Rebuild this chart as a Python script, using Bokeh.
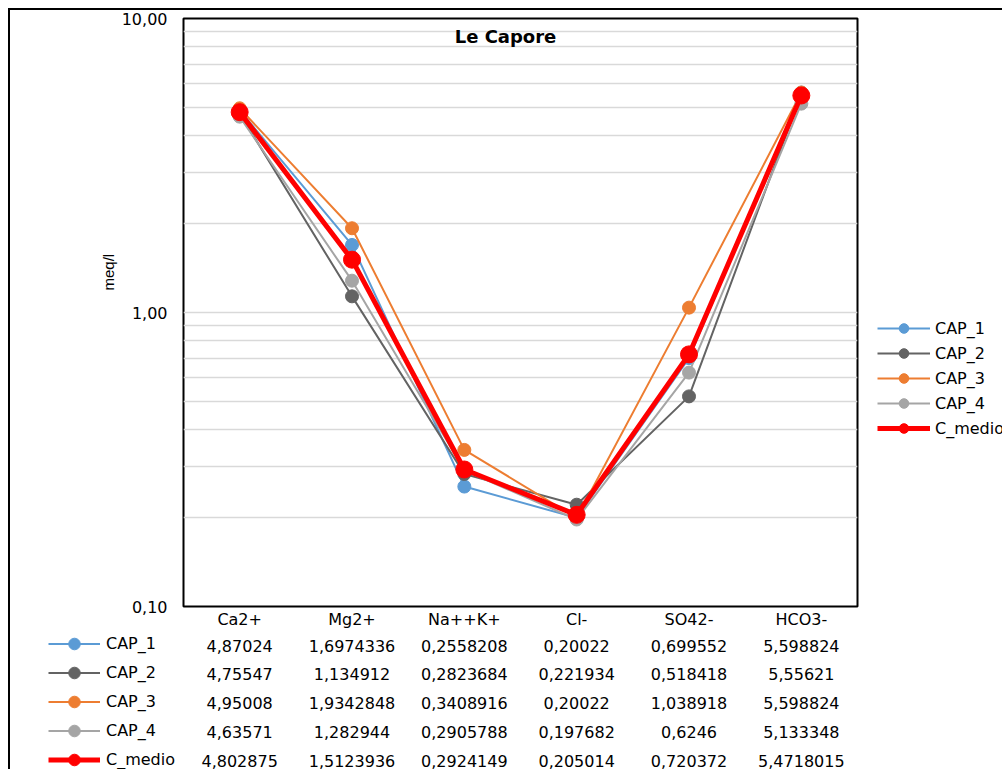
import math
from bokeh.plotting import figure
from bokeh.models import (FactorRange, Range1d, FixedTicker, CustomJSTickFormatter,
                          Legend, LegendItem, Label, Title, ColumnDataSource)
from bokeh.layouts import column, row
from bokeh.embed import file_html
from bokeh.resources import INLINE
from bokeh.core.properties import value

# ---------------- data ----------------
categories = ["Ca2+", "Mg2+", "Na++K+", "Cl-", "SO42-", "HCO3-"]
series_names = ["CAP_1", "CAP_2", "CAP_3", "CAP_4", "C_medio"]
cap_1 = [4.87024, 1.6974336, 0.2558208, 0.20022, 0.699552, 5.598824]
cap_2 = [4.75547, 1.134912, 0.2823684, 0.221934, 0.518418, 5.55621]
cap_3 = [4.95008, 1.9342848, 0.3408916, 0.20022, 1.038918, 5.598824]
cap_4 = [4.63571, 1.282944, 0.2905788, 0.197682, 0.6246, 5.133348]
c_medio = [4.802875, 1.5123936, 0.2924149, 0.205014, 0.720372, 5.4718015]
title_text = "Le Capore"
y_label = "meq/l"

series_values = [cap_1, cap_2, cap_3, cap_4, c_medio]
colors = ["#5b9bd5", "#636363", "#ed7d31", "#a5a5a5", "#ff0000"]
line_widths = [2, 2, 2, 2, 5]
marker_sizes = [13, 13, 13, 13, 17]

FONT = "DejaVu Sans"
FS = "16px"
nan = float("nan")


def bare(width, height, **kw):
    f = figure(width=width, height=height, min_border=0,
               x_axis_location=None, y_axis_location=None,
               output_backend="svg", toolbar_location=None, **kw)
    f.grid.visible = False
    f.outline_line_color = None
    return f


def legend_items(fig):
    its = []
    for name, col, lw, ms in zip(series_names, colors, line_widths, marker_sizes):
        empty = ColumnDataSource(dict(x=[nan], y=[nan]))
        l = fig.line(x="x", y="y", source=empty, line_color=col, line_width=lw)
        s = fig.scatter(x="x", y="y", source=empty, marker="circle", size=ms,
                        fill_color=col, line_color=col)
        its.append(LegendItem(label=name, renderers=[l, s]))
    return its


# ---------------- main chart ----------------
p = figure(x_range=FactorRange(*categories), y_range=Range1d(0.1, 10), y_axis_type="log",
           width=849, height=621,
           min_border_left=173, min_border_right=2, min_border_top=8, min_border_bottom=25,
           output_backend="svg", toolbar_location=None)
p.outline_line_color = "black"
p.outline_line_width = 2

minor = [m * 10.0 ** e for e in (-1, 0) for m in range(2, 10)]
p.yaxis.ticker = FixedTicker(ticks=[0.1, 1, 10], minor_ticks=minor)
p.yaxis.formatter = CustomJSTickFormatter(code="return tick.toFixed(2).replace('.', ',');")
for ax in (p.xaxis[0], p.yaxis[0]):
    ax.major_tick_line_color = None
    ax.minor_tick_line_color = None
    ax.major_tick_out = 0
    ax.major_tick_in = 0
    ax.minor_tick_out = 0
    ax.minor_tick_in = 0
    ax.axis_line_color = None
    ax.major_label_text_font = FONT
    ax.major_label_text_font_size = FS
    ax.major_label_text_color = "black"
p.yaxis.major_label_standoff = 16
p.xaxis.major_label_standoff = 3

p.xgrid.visible = False
p.ygrid.grid_line_color = "#d9d9d9"
p.ygrid.grid_line_width = 1.5
p.ygrid.minor_grid_line_color = "#d9d9d9"
p.ygrid.minor_grid_line_width = 1.5

src = ColumnDataSource(dict(cat=categories, **{n: v for n, v in zip(series_names, series_values)}))
for name, col, lw, ms in zip(series_names, colors, line_widths, marker_sizes):
    p.line(x="cat", y=name, source=src, line_color=col, line_width=lw)
    p.scatter(x="cat", y=name, source=src, marker="circle", size=ms,
              fill_color=col, line_color=col)

p.add_layout(Label(x=322, y=570, x_units="screen", y_units="screen", text=title_text,
                   text_align="center", text_baseline="middle", text_font=FONT,
                   text_font_size="18px", text_font_style="bold", text_color="black"))
p.add_layout(Title(text=y_label, align="left", offset=316, standoff=3,
                   text_font="Liberation Sans", text_font_size="15px",
                   text_font_style="normal", text_color="black"), "left")

# ---------------- legend on the right ----------------
lg = bare(143, 621, x_range=Range1d(0, 1), y_range=Range1d(0, 1))
lg.add_layout(Legend(items=legend_items(lg), location=(18, 166),
                     glyph_width=53, glyph_height=24, label_height=24, spacing=1,
                     padding=0, margin=0, label_standoff=5,
                     border_line_color=None, background_fill_alpha=0,
                     label_text_font=FONT, label_text_font_size=FS,
                     label_text_color="black"))

# ---------------- data table ----------------
t = figure(x_range=p.x_range, y_range=Range1d(4.31, -0.49),
           width=674, height=138, min_border=0,
           x_axis_location=None, y_axis_location=None,
           output_backend="svg", toolbar_location=None)
t.grid.visible = False
t.outline_line_color = None

tx, ty, tt = [], [], []
for r, vals in enumerate(series_values):
    for c, v in zip(categories, vals):
        tx.append(c)
        ty.append(r)
        tt.append(str(v).replace(".", ","))
t.text(x="x", y="y", text="t", source=ColumnDataSource(dict(x=tx, y=ty, t=tt)),
       text_align="center", text_baseline="middle", text_font=value(FONT),
       text_font_size=FS, text_color="black")

key = bare(173, 138, x_range=Range1d(0, 1), y_range=Range1d(0, 1))
key.add_layout(Legend(items=legend_items(key), location=(38, -4.5),
                      glyph_width=52, glyph_height=29, label_height=29, spacing=0,
                      padding=0, margin=0, label_standoff=6,
                      border_line_color=None, background_fill_alpha=0,
                      label_text_font=FONT, label_text_font_size=FS,
                      label_text_color="black"))

layout = column(row(p, lg, spacing=0), row(key, t, spacing=0), spacing=0,
                styles={"margin-left": "8px", "margin-top": "8px",
                        "border-left": "2px solid black", "border-top": "2px solid black"})
open("out.html", "w").write(file_html(layout, INLINE))
